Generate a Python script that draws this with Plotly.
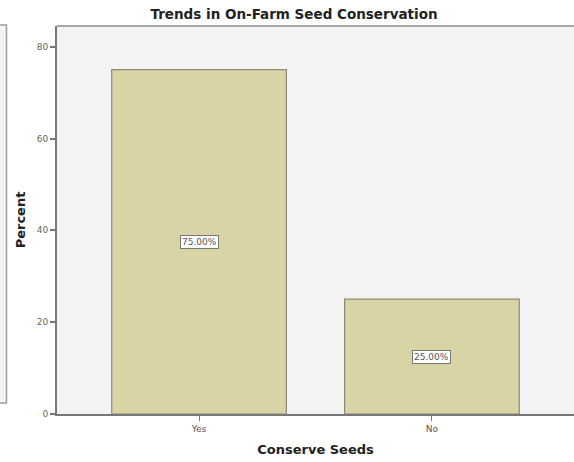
import plotly.graph_objects as go

categories = ["Yes", "No"]
percents = [75.0, 25.0]
y_ticks = [0, 20, 40, 60, 80]

W, H = 574, 462
L, R, T, B = 57, 0, 26, 48
pw, ph = W - L - R, H - T - B

fig = go.Figure()
fig.add_trace(go.Bar(
    x=categories, y=percents, width=0.75,
    marker=dict(color="#d8d4a5", line=dict(color="#8a8a7a", width=1.2)),
    hoverinfo="skip",
))

# value labels in small boxed tags at mid-height of each bar
for c, v in zip(categories, percents):
    fig.add_annotation(
        x=c, y=v / 2, text=f"{v:.2f}%", showarrow=False,
        font=dict(family="DejaVu Sans", size=9, color="#555"),
        bgcolor="white", bordercolor="#777", borderwidth=1, borderpad=1,
    )

# neighbouring panel frame on the left
fig.add_shape(type="rect", xref="paper", yref="paper",
              x0=-0.3, x1=(6.5 - L) / pw, y0=(414 - 403) / ph, y1=(414 - 25) / ph,
              fillcolor="#f3f3f3", line=dict(color="#a0a0a0", width=1.5), layer="below")
# top border of the plot frame
fig.add_shape(type="line", xref="paper", yref="paper", x0=0, x1=1, y0=1, y1=1,
              line=dict(color="#a8a8a8", width=2))

fig.update_layout(
    width=W, height=H,
    margin=dict(l=L, r=R, t=T, b=B),
    paper_bgcolor="white", plot_bgcolor="#f3f3f3",
    showlegend=False,
    title=dict(text="<b>Trends in On-Farm Seed Conservation</b>",
               x=294 / W, xanchor="center", y=1 - 14 / H, yanchor="middle",
               font=dict(family="DejaVu Sans", size=13.5, color="#222")),
    font=dict(family="DejaVu Sans", color="#555"),
)
fig.update_xaxes(
    range=[-0.61, 1.61], showgrid=False, zeroline=False,
    showline=True, linecolor="#777", linewidth=2,
    ticks="outside", ticklen=5, tickcolor="#777", tickwidth=1,
    tickfont=dict(size=9, color="#555"),
    title=dict(text="<b>Conserve Seeds</b>", standoff=12,
               font=dict(family="DejaVu Sans", size=13, color="#222")),
)
fig.update_yaxes(
    range=[0, 84.5], tickvals=y_ticks, showgrid=False, zeroline=False,
    showline=True, linecolor="#777", linewidth=2,
    ticks="outside", ticklen=5, tickcolor="#777", tickwidth=1.5,
    tickfont=dict(size=9, color="#666"),
    title=dict(text="<b>Percent</b>", standoff=8,
               font=dict(family="DejaVu Sans", size=13, color="#222")),
)

fig.write_html("out.html")
